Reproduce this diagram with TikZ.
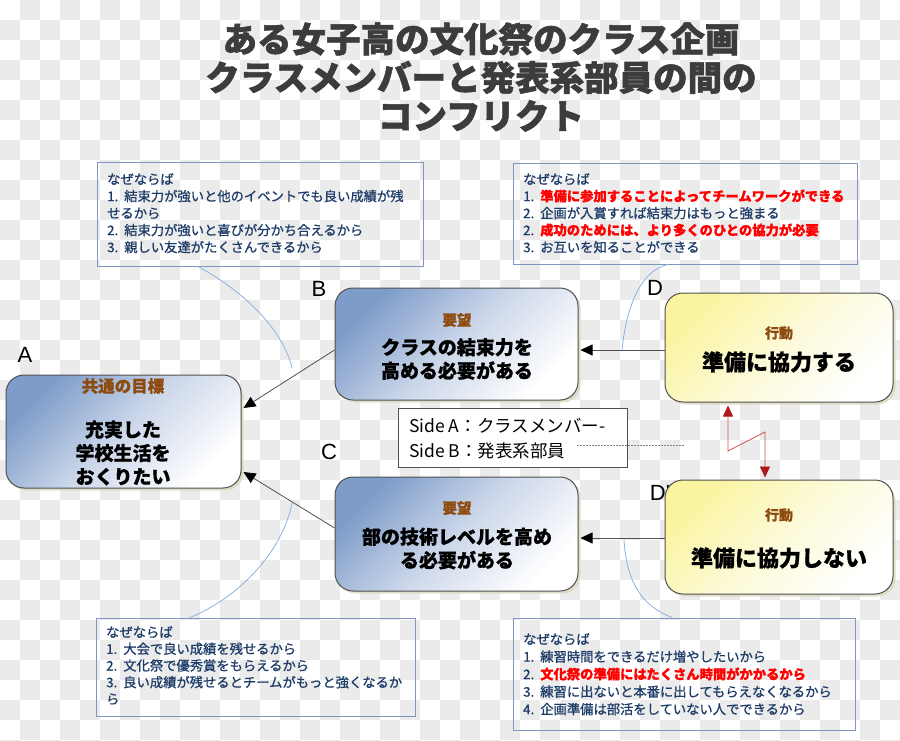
\documentclass[tikz,border=0pt]{standalone}
\usepackage{fontspec}
\setmainfont{Noto Sans CJK JP}[BoldFeatures={FakeBold=0.8}]
\newfontfamily\notefont{Noto Sans CJK JP}[FakeBold=0.9]
\newfontfamily\titlefont{Noto Sans CJK JP}[BoldFeatures={FakeBold=1.5}]
\newfontfamily\latin{Liberation Sans}
\usetikzlibrary{arrows.meta,shadows,calc}
\newcommand\nm[1]{#1.\hspace{6pt}}
\definecolor{chk}{HTML}{EBEBEB}
\definecolor{titlec}{HTML}{3C3C3C}
\definecolor{notec}{HTML}{1E3C68}
\definecolor{noteline}{HTML}{7F97BF}
\definecolor{cardline}{HTML}{505050}
\definecolor{blueA}{HTML}{7D9CC9}
\definecolor{blueB}{HTML}{CCD7EA}
\definecolor{yelA}{HTML}{FAF4A0}
\definecolor{yelB}{HTML}{FCFAD8}
\definecolor{shadowc}{HTML}{DCD8BE}
\definecolor{brownc}{HTML}{8E4B10}
\definecolor{curvec}{HTML}{8DB3E2}
\definecolor{redc}{HTML}{FF0000}
\definecolor{darkred}{HTML}{B01818}
\definecolor{redline}{HTML}{D85050}
\begin{document}
\begin{tikzpicture}[x=1pt,y=-1pt,
  lbl/.style={font=\latin\fontsize{22}{22}\selectfont, inner sep=0},
  card/.style={draw=cardline, line width=1pt, rounded corners=18pt,
    drop shadow={shadow xshift=2.5pt, shadow yshift=-2.5pt, fill=shadowc, opacity=0.8}},
  bluecard/.style={card, top color=blueA, bottom color=white, middle color=blueB, shading angle=45},
  yelcard/.style={card, top color=yelA, bottom color=white, middle color=yelB, shading angle=45},
  ttl/.style={font=\bfseries\fontsize{14.5}{16}\selectfont, text=brownc, inner sep=0},
  big/.style={font=\bfseries\fontsize{19}{23.5}\selectfont, align=center, inner sep=0},
  note/.style={draw=noteline, line width=1pt},
  notetext/.style={font=\notefont\fontsize{13.3}{17}\selectfont, text=notec, align=left, inner sep=0, anchor=north west},
  arr/.style={draw=cardline, line width=0.8pt, -{Triangle[length=12pt,width=11pt,color=black]}},
  curve/.style={draw=curvec, line width=0.8pt},
  redarr/.style={draw=redline, line width=0.8pt,
    {Triangle[length=11pt,width=10pt,color=darkred]}-{Triangle[length=11pt,width=10pt,color=darkred]}}
]
\useasboundingbox (0,0) rectangle (900,740);
% checkerboard background
\fill[white] (0,0) rectangle (900,740);
\foreach \i in {0,...,44}{
  \pgfmathtruncatemacro\s{1-mod(\i,2)}
  \foreach \j in {0,2,...,36}{
    \fill[chk] (\i*20,{(\j+\s)*20}) rectangle ++(20,20);
  }
}
% title
\node[font=\titlefont\bfseries\fontsize{34.5}{38.5}\selectfont, text=titlec, align=center, inner sep=0] (title) at (481,77)
  {ある女子高の文化祭のクラス企画\\クラスメンバーと発表系部員の間の\\コンフリクト};

% note boxes
\node[note, minimum width=326pt, minimum height=104pt] (n1) at (260,214) {};
\node[notetext] (t1) at (107,173) {なぜならば\\\nm1結束力が強いと他のイベントでも良い成績が残\\せるから\\\nm2結束力が強いと喜びが分かち合えるから\\\nm3親しい友達がたくさんできるから};

\node[note, minimum width=344pt, minimum height=101pt] (n2) at (685,213.5) {};
\node[notetext] (t2) at (523,173) {なぜならば\\\nm1{\bfseries\color{redc}準備に参加することによってチームワークができる}\\\nm2企画が入賞すれば結束力はもっと強まる\\\nm2{\bfseries\color{redc}成功のためには、より多くのひとの協力が必要}\\\nm3お互いを知ることができる};

\node[note, minimum width=319pt, minimum height=98pt] (n3) at (255.5,667) {};
\node[notetext, font=\notefont\fontsize{13.3}{16.7}\selectfont] (t3) at (106,626) {なぜならば\\\nm1大会で良い成績を残せるから\\\nm2文化祭で優秀賞をもらえるから\\\nm3良い成績が残せるとチームがもっと強くなるか\\ら};

\node[note, minimum width=342pt, minimum height=112pt] (n4) at (684,674) {};
\node[notetext, font=\notefont\fontsize{13.3}{17.5}\selectfont] (t4) at (523,633) {なぜならば\\\nm1練習時間をできるだけ増やしたいから\\\nm2{\bfseries\color{redc}文化祭の準備にはたくさん時間がかかるから}\\\nm3練習に出ないと本番に出してもらえなくなるから\\\nm4企画準備は部活をしていない人でできるから};

% letter labels
\node[lbl] (LA) at (25,355) {A};
\node[lbl] (LB) at (319,289) {B};
\node[lbl] (LC) at (329,452) {C};
\node[lbl] (LD) at (655,288) {D};
\node[lbl] (LD2) at (660,493) {D'};

% main cards
\node[bluecard, minimum width=235pt, minimum height=113pt] (A) at (123.5,431.5) {};
\node[ttl, font=\bfseries\fontsize{16.5}{18}\selectfont] (At) at (123,386) {共通の目標};
\node[big] (Ab) at (123,453) {充実した\\学校生活を\\おくりたい};

\node[bluecard, minimum width=243pt, minimum height=112pt] (B) at (456.5,344) {};
\node[ttl] (Bt) at (457,320) {要望};
\node[big] (Bb) at (457,359) {クラスの結束力を\\高める必要がある};

\node[bluecard, minimum width=243pt, minimum height=114pt] (C) at (456.5,534) {};
\node[ttl] (Ct) at (457,508) {要望};
\node[big] (Cb) at (457,548.5) {部の技術レベルを高め\\る必要がある};

\node[yelcard, minimum width=228pt, minimum height=109pt] (D) at (779,347.5) {};
\node[ttl, font=\bfseries\fontsize{14}{16}\selectfont] (Dt) at (779,333) {行動};
\node[big, font=\bfseries\fontsize{22}{24}\selectfont] (Db) at (779,362) {準備に協力する};

\node[yelcard, minimum width=228pt, minimum height=114pt] (D2) at (779,537) {};
\node[ttl, font=\bfseries\fontsize{14}{16}\selectfont] (D2t) at (779,515) {行動};
\node[big, font=\bfseries\fontsize{22}{24}\selectfont] (D2b) at (779,558) {準備に協力しない};

% side box
\node[draw=cardline, fill=white, line width=1pt, minimum width=229pt, minimum height=59pt] (S) at (512.5,437.5) {};
\node[font=\fontsize{17.5}{25}\selectfont, align=left, inner sep=0, anchor=north west] (St) at (409,418) {Side A：クラスメンバー-\\Side B：発表系部員};
\coordinate (dotS) at (577,445);
\coordinate (dotE) at (685,445);
\draw[gray, line width=0.6pt, dash pattern=on 1.5pt off 1.5pt] (dotS) -- (dotE);

% arrows
\draw[arr] ($(B.west)+(0,6)$) -- ($(A.east)+(2,-23.5)$);
\draw[arr] ($(C.west)+(0,-6)$) -- ($(A.east)+(2,40.5)$);
\draw[arr] ($(D.west)+(0,2.5)$) -- ($(B.east)+(2,6)$);
\draw[arr] ($(D2.west)+(0,1)$) -- ($(C.east)+(2,4)$);

% red lightning arrow
\coordinate (r1) at (728,451);
\coordinate (r2) at (765,432);
\draw[redarr] ($(r1|-D.south)+(0,3)$) -- (r1) -- (r2) -- ($(r2|-D2.north)+(0,-2)$);

% blue callout curves
\coordinate (c1) at (292,368);
\coordinate (c2) at (622,350);
\coordinate (c3) at (624,540);
\coordinate (c4) at (292,503);
\draw[curve] ($(n1.south)+(-62,0)$) .. controls (245,292) and (283,330) .. (c1);
\draw[curve] ($(n2.south)+(-17,0)$) .. controls (635,272) and (625,320) .. (c2);
\draw[curve] (c3) .. controls (627,590) and (648,608) .. ($(n4.north)+(-12,0)$);
\draw[curve] ($(n3.south)+(-68,-98)$) .. controls (240,598) and (283,550) .. (c4);
\end{tikzpicture}
\end{document}
